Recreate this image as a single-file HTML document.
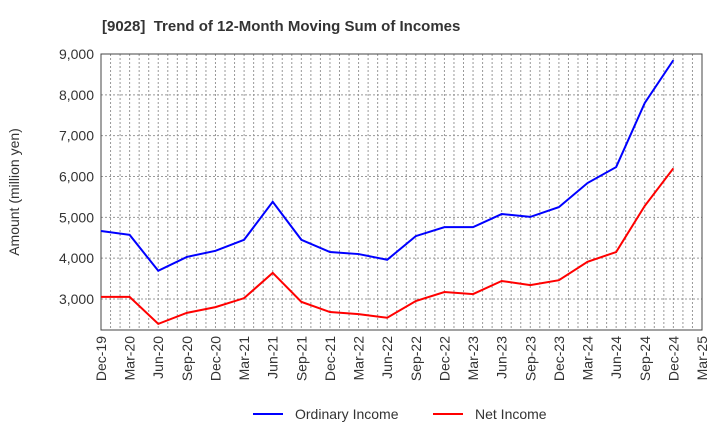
<!DOCTYPE html>
<html><head><meta charset="utf-8"><style>
body{margin:0;background:#fff;font-family:"Liberation Sans",sans-serif;}
</style></head><body>
<svg id="chart" width="720" height="440" xmlns="http://www.w3.org/2000/svg" font-family="Liberation Sans, sans-serif">
<text x="102" y="31" font-size="15" font-weight="bold" fill="#333">[9028]&#160; Trend of 12-Month Moving Sum of Incomes</text>
<text transform="translate(19,192) rotate(-90)" text-anchor="middle" font-size="14" fill="#333">Amount (million yen)</text>
<g id="grid"></g><g id="axes"></g><g id="series"></g>
<g>
<line x1="253" y1="414" x2="283" y2="414" stroke="#0000ff" stroke-width="2"/>
<text x="295" y="419" font-size="14" fill="#333">Ordinary Income</text>
<line x1="433" y1="414" x2="463" y2="414" stroke="#ff0000" stroke-width="2"/>
<text x="475" y="419" font-size="14" fill="#333">Net Income</text>
</g>
</svg>
<script>
const categories=["Dec-19","Mar-20","Jun-20","Sep-20","Dec-20","Mar-21","Jun-21","Sep-21","Dec-21","Mar-22","Jun-22","Sep-22","Dec-22","Mar-23","Jun-23","Sep-23","Dec-23","Mar-24","Jun-24","Sep-24","Dec-24","Mar-25"];
const ordinaryIncome=[4665,4570,3690,4030,4180,4450,5380,4450,4150,4100,3960,4540,4760,4760,5080,5010,5250,5840,6230,7800,8850];
const netIncome=[3050,3050,2390,2660,2800,3020,3640,2930,2680,2630,2540,2950,3170,3120,3440,3340,3460,3910,4150,5280,6200];
const yTicks=[3000,4000,5000,6000,7000,8000,9000];
const yTickLabels=["3,000","4,000","5,000","6,000","7,000","8,000","9,000"];
const L=101,R=702,T=54,B=330,YMIN=2240,YMAX=9000;
const NS="http://www.w3.org/2000/svg";
const xs=i=>L+(R-L)*i/(categories.length-1);
const ys=v=>B-(v-YMIN)/(YMAX-YMIN)*(B-T);
function mk(tag,attrs,parent){const e=document.createElementNS(NS,tag);for(const k in attrs)e.setAttribute(k,attrs[k]);parent.appendChild(e);return e;}
const grid=document.getElementById('grid'),axes=document.getElementById('axes'),series=document.getElementById('series');
for(let m=1;m<(categories.length-1)*3;m++){const x=L+(R-L)*m/((categories.length-1)*3);
const g=mk('line',{x1:x,x2:x,y1:T,y2:B,stroke:'#999','stroke-width':1,'stroke-dasharray':'2,2'},grid);

}
yTicks.forEach((v,i)=>{const y=ys(v);
const g=mk('line',{x1:L,x2:R,y1:y,y2:y,stroke:'#999','stroke-width':1,'stroke-dasharray':'2,2'},grid);


const t=mk('text',{x:L-7,y:y+5,'text-anchor':'end','font-size':14,fill:'#333'},axes);t.textContent=yTickLabels[i];

});
const box=mk('rect',{x:L,y:T,width:R-L,height:B-T,fill:'none',stroke:'#444','stroke-width':1},axes);


categories.forEach((c,i)=>{const x=xs(i);
const t=mk('text',{transform:`translate(${x+5},${B+6}) rotate(-90)`,'text-anchor':'end','font-size':14,fill:'#333'},axes);t.textContent=c;

});
function line(data,color,name){const p=mk('polyline',{points:data.map((v,i)=>xs(i)+','+ys(v)).join(' '),fill:'none',stroke:color,'stroke-width':2},series);

}
line(ordinaryIncome,'#0000ff','ordinary-income-line');
line(netIncome,'#ff0000','net-income-line');
</script>
</body></html>
